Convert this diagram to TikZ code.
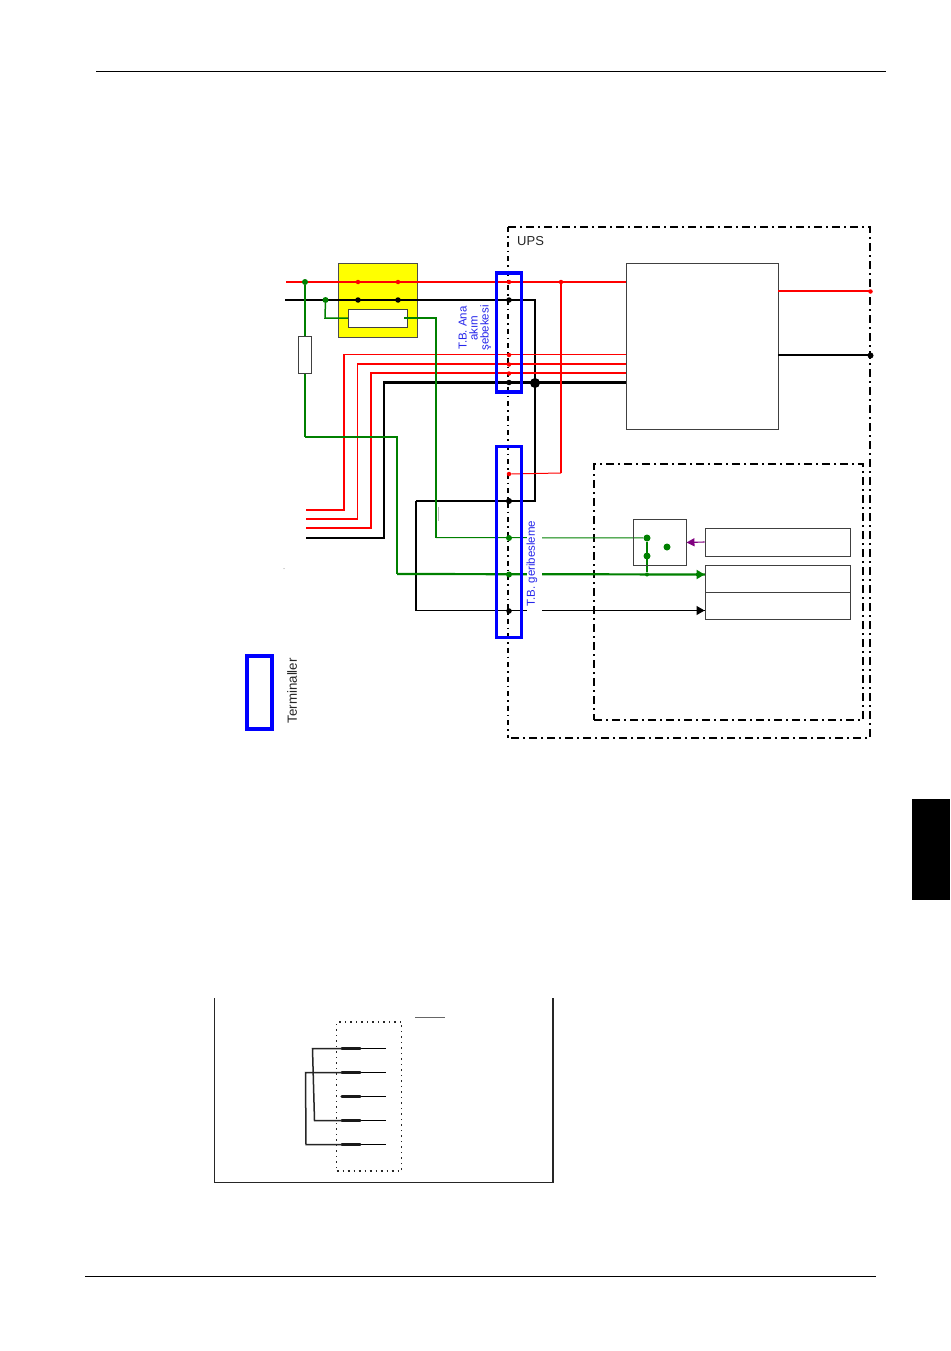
\documentclass[tikz,border=0pt]{standalone}
\usepackage{fontspec}
\setmainfont{Liberation Sans}
\usetikzlibrary{arrows.meta,calc}
\pgfdeclarelayer{front}
\pgfsetlayers{main,front}
\definecolor{gr}{RGB}{0,128,0}
\definecolor{pu}{RGB}{128,0,128}
\definecolor{bl}{RGB}{0,0,255}
\definecolor{lab}{RGB}{40,40,235}
\definecolor{yel}{RGB}{255,255,0}
\tikzset{
 dashdotb/.style={line width=1.5pt,dash pattern=on 8pt off 4pt on 2pt off 4pt},
 dashdotl/.style={line width=1.1pt,dash pattern=on 5pt off 4pt on 1.5pt off 4pt},
 plainbox/.style={draw=black!75,line width=.9pt,fill=white},
 termbox/.style={draw=bl,line width=3.5pt},
 redthin/.style={draw=red,line width=1.3pt},
 blkthin/.style={draw=black,line width=1.1pt},
 blkthick/.style={draw=black,line width=2.4pt},
 grthin/.style={draw=gr,line width=1.1pt},
 grthick/.style={draw=gr,line width=2.2pt},
 bigdot/.style={circle,inner sep=0pt,minimum size=#1},
 bigdot/.default=5pt,
 lbl/.style={font=\fontsize{11.5}{12}\selectfont,text=lab,inner sep=0pt,rotate=90,align=center},
 gapmask/.style={fill=white,draw=none},
 row/.style={draw=black,line width=1pt},
 rowthick/.style={draw=black!90,line width=3.2pt,line cap=round},
 lowline/.style={line width=1.5pt,black!85},
}
\begin{document}
\begin{tikzpicture}[x=1pt,y=-1pt]
\useasboundingbox[fill=white] (0,0) rectangle (950,1351);
% page furniture
\draw[line width=1pt] (96,71.3) -- (886,71.3);
\draw[line width=1pt] (85,1276.3) -- (876,1276.3);
\fill[black] (912,799) rectangle (950,900);
% containers
\node[minimum width=362pt,minimum height=511pt,inner sep=0pt,outer sep=0pt] (ups) at (689,482.5) {};
\draw[dashdotb] (ups.north west) -- (ups.north east) -- (ups.south east) -- (ups.south west);
\draw[dashdotl] (ups.north west) -- (ups.south west);
\node[draw=black,dashdotb,minimum width=269pt,minimum height=256pt,inner sep=0pt] (ctrl) at (728.5,592) {};
\node[anchor=west,inner sep=0pt,font=\fontsize{13}{13}\selectfont,text=black!85] (upslbl) at (517,241) {UPS};
% yellow switch
\node[draw=black!70,fill=yel,line width=.8pt,minimum width=79pt,minimum height=74pt,inner sep=0pt] (sw) at (377.5,300) {};
% main block
\node[plainbox,minimum width=152pt,minimum height=166pt,inner sep=0pt] (main) at (702,346) {};
% coordinates
\coordinate (Rin) at (286,282);
\coordinate (Bin) at (285,300);
\coordinate (Rm) at (626,282);
\coordinate (Bc) at (535,300);
\coordinate (Bd) at (535,501);
\coordinate (Bl) at (416,501);
\coordinate (Bb) at (416,610.5);
\coordinate (Bar) at (705,610.5);
\coordinate (R1a) at (306,510); \coordinate (R1b) at (344,510); \coordinate (R1c) at (344,354.5); \coordinate (R1d) at (626,354.5);
\coordinate (R2a) at (306,519); \coordinate (R2b) at (357.5,519); \coordinate (R2c) at (357.5,364); \coordinate (R2d) at (626,364);
\coordinate (R3a) at (306,528); \coordinate (R3b) at (371,528); \coordinate (R3c) at (371,373); \coordinate (R3d) at (626,373);
\coordinate (B4a) at (306,538); \coordinate (B4b) at (384,538); \coordinate (B4c) at (384,382.5); \coordinate (B4d) at (626,382.5);
\coordinate (Rv) at (561,282); \coordinate (Rvb) at (561,473);
\coordinate (G1) at (305,437); \coordinate (G2) at (397,437); \coordinate (G3) at (397,574);
\coordinate (Ga) at (325,318);
\coordinate (Gb) at (436,318); \coordinate (Gc) at (436,537.5);
\coordinate (Oa) at (778,291); \coordinate (Ob) at (872,291);
\coordinate (Oc) at (778,355); \coordinate (Od) at (872,355);
% dots as nodes, on the front layer
\begin{pgfonlayer}{front}
\foreach \n/\c/\x/\y/\s in {
 g0/gr/305/282/6pt, g1/gr/325.5/300/6pt,
 s1/red/358/282/4.5pt, s2/red/398/282/4.5pt, s3/black/358/300/5.5pt, s4/black/398/300/5.5pt,
 t1/red/509/282/4.5pt, t2/black/509/300/5.5pt, t3/red/509/355/4.5pt, t4/red/509/364.5/4.5pt,
 t5/red/509/373.5/4.5pt, t6/black/509/382.5/5.5pt, t7/red/509/474/4.5pt, t8/black/509/501/6pt,
 t9/gr/509/538/6pt, t10/gr/509/574.5/6pt, t11/black/509/611/5.5pt,
 c1/gr/647/538/7pt, c2/gr/647/556/7pt, c3/gr/667/547/7pt, c4/gr/647/574.5/4pt,
 rj/red/561/282/4.5pt, bj/black/535/383/10pt, oe1/red/870.5/291.5/4.5pt, oe2/black/870.5/355.5/6pt}
 { \node[bigdot=\s,fill=\c] (\n) at (\x,\y) {}; }
\end{pgfonlayer}
% connectors
\draw[redthin] (Rin) -- (Rm);
\draw[draw=red,line width=1.9pt] (s1) -- (s2);
\draw[blkthick] (Bin) -- (Bc) -- (Bd) -- (Bl);
\draw[blkthin] (Bl) -- (Bb) -- (Bar);
\draw[redthin,line width=1.4pt] (R1a) -- (R1b) -- (R1c) -- (R1d);
\draw[redthin,line width=1.4pt] (R2a) -- (R2b) -- (R2c) -- (R2d);
\draw[redthin,line width=1.4pt] (R3a) -- (R3b) -- (R3c) -- (R3d);
\draw[blkthick] (B4a) -- (B4b) -- (B4c) -- (B4d);
\draw[redthin,line width=1.5pt] (Rv) -- (Rvb);
\draw[redthin,line width=1pt] (Rvb) -- (t7);
\draw[grthin,line width=1.5pt] (g0) -- (G1);
\draw[grthick,line width=1.6pt] (G1) -- (G2) -- (G3);
\draw[grthick] (G3) -- (705,574.5);
\draw[grthin,line width=1.5pt] (g1) -- (Ga) -- (348,318);
\draw[grthin,line width=1.5pt] (404,318) -- (Gb) -- (Gc);
\draw[grthin,line width=1pt] (Gc) -- (c1);
\draw[grthin,line width=1.4pt] (c1) -- (c4);
\draw[draw=black!30,line width=.8pt] (438.5,507) -- (438.5,521);
\draw[draw=red,line width=2pt] (Oa) -- (Ob);
\draw[draw=black,line width=2pt] (Oc) -- (Od);
% fuse and switch inner
\node[plainbox,line width=.7pt,minimum width=13.5pt,minimum height=37pt,inner sep=0pt] (fuse) at (305,355) {};
\node[plainbox,minimum width=59pt,minimum height=18pt,inner sep=0pt] (ins) at (378,318.5) {};
\draw[grthin,line width=1.5pt] (404,318) -- (408.5,318);
% label gaps
\fill[gapmask] (527,530) rectangle (542,620);
% terminal boxes
\node[termbox,minimum width=25pt,minimum height=119pt,inner sep=0pt] (tb1) at (509,332.5) {};
\node[termbox,minimum width=25pt,minimum height=191pt,inner sep=0pt] (tb2) at (509,542) {};
\node[termbox,minimum width=25pt,minimum height=73pt,inner sep=0pt] (leg) at (259.5,692.5) {};
% labels
\node[lbl] (lb1) at (475,328) {T.B. Ana\\[-1pt]akım\\[-1pt]şebekesi};
\node[lbl,anchor=west] (lb2) at (532,606.5) {T.B. geribesleme};
\node[anchor=west,rotate=90,inner sep=0pt,font=\fontsize{13.3}{13.3}\selectfont,text=black!85] (lb3) at (292,723.5) {Terminaller};
% control boxes
\node[plainbox,minimum width=53pt,minimum height=46pt,inner sep=0pt,fill=none] (cb) at (659.5,542.5) {};
\node[plainbox,minimum width=145pt,minimum height=28pt,inner sep=0pt] (p1) at (777.5,542) {};
\node[plainbox,minimum width=145pt,minimum height=27pt,inner sep=0pt] (p2) at (777.5,578.5) {};
\node[plainbox,minimum width=145pt,minimum height=27pt,inner sep=0pt] (p3) at (777.5,605.5) {};
\draw[draw=pu,line width=1.1pt,-{Triangle[length=8pt,width=8pt]}] (p1.west) -- (cb.east);
\draw[gr,line width=2.2pt,-{Triangle[length=8pt,width=9pt]}] (696,574.5) -- (p2.west |- 0,574.5);
\draw[black,line width=1pt,-{Triangle[length=8pt,width=9pt]}] (696,610.5) -- (p3.west |- 0,610.5);
\fill[black!50] (284,568.5) circle (.5pt);
% lower figure
\draw[line width=1.3pt,black!85] (214.5,998) -- (214.5,1182.5) -- (553,1182.5) -- (553,998);
\node[draw=black!85,line width=1.2pt,dash pattern=on 2pt off 4pt on 1pt off 4pt,minimum width=65pt,minimum height=149pt,inner sep=0pt] (conn) at (369,1096.5) {};
\draw[draw=black!60,line width=1.4pt] (415,1017.5) -- (445,1017.5);
\foreach \n/\y in {a/1048.5,b/1072.5,c/1096.5,d/1120.5,e/1144.5}{
 \coordinate (\n0) at (342,\y); \coordinate (\n1) at (360,\y); \coordinate (\n2) at (386,\y);
 \draw[row] (\n1) -- (\n2);
 \draw[rowthick] (\n0) -- (\n1);
}
\coordinate (ta) at (312.5,1048.5); \coordinate (td) at (314.5,1120.5);
\coordinate (tb) at (305.5,1072.5); \coordinate (te) at (306,1144.5);
\draw[lowline] (a0) -- (ta) -- (td) -- (d0);
\draw[lowline] (b0) -- (tb) -- (te) -- (e0);
\end{tikzpicture}
\end{document}
